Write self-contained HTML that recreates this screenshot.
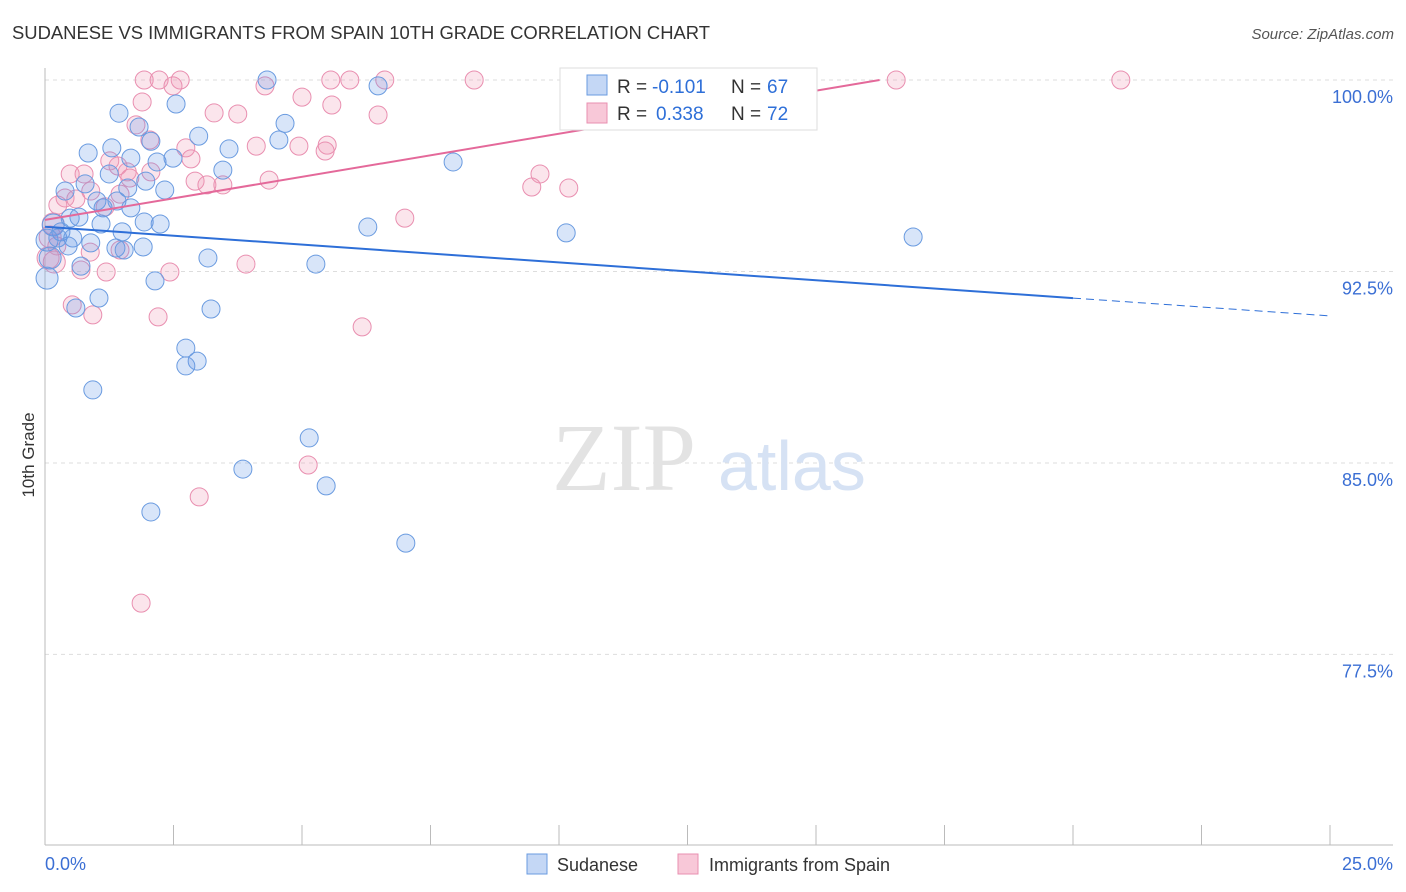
<!DOCTYPE html>
<html><head><meta charset="utf-8"><style>
body{margin:0;background:#fff;font-family:"Liberation Sans",sans-serif}
svg{display:block}
</style></head><body>
<svg width="1406" height="892" viewBox="0 0 1406 892">
<text x="12" y="39" font-size="18" fill="#333" textLength="698" lengthAdjust="spacingAndGlyphs">SUDANESE VS IMMIGRANTS FROM SPAIN 10TH GRADE CORRELATION CHART</text>
<text x="1394" y="39" font-size="15" fill="#555" font-style="italic" text-anchor="end">Source: ZipAtlas.com</text>
<g id="grid"></g>
<g><text x="552" y="490" font-size="96" fill="#e3e3e3" font-family="Liberation Serif,serif">ZIP</text><text x="718" y="490" font-size="70" fill="#d6e2f4">atlas</text></g>
<g id="axes"></g>
<g id="marks"></g>
<text x="34" y="455" font-size="17" fill="#333" text-anchor="middle" transform="rotate(-90 34 455)">10th Grade</text>
<g>
<rect x="560" y="68" width="257" height="62" fill="#fff" stroke="#ddd"/>
<rect x="587" y="75" width="20" height="20" fill="#c4d7f5" stroke="#6a9be0"/>
<text x="617" y="93" font-size="19" fill="#333">R =</text>
<text x="652" y="93" font-size="19" fill="#2e6fd8">-0.101</text>
<text x="731" y="93" font-size="19" fill="#333">N =</text>
<text x="767" y="93" font-size="19" fill="#2e6fd8">67</text>
<rect x="587" y="103" width="20" height="20" fill="#f8c8d8" stroke="#e98fb0"/>
<text x="617" y="120" font-size="19" fill="#333">R =</text>
<text x="656" y="120" font-size="19" fill="#2e6fd8">0.338</text>
<text x="731" y="120" font-size="19" fill="#333">N =</text>
<text x="767" y="120" font-size="19" fill="#2e6fd8">72</text>
</g>
<g>
<rect x="527" y="854" width="20" height="20" fill="#c4d7f5" stroke="#6a9be0"/>
<text x="557" y="871" font-size="18" fill="#333">Sudanese</text>
<rect x="678" y="854" width="20" height="20" fill="#f8c8d8" stroke="#e98fb0"/>
<text x="709" y="871" font-size="18" fill="#333">Immigrants from Spain</text>
</g>
</svg>
<script>
const yTicks=[100,92.5,85,77.5];
const yTickLabels=["100.0%","92.5%","85.0%","77.5%"];
const xTickLabels=["0.0%","25.0%"];
const blueX=[4.32,6.48,1.44,2.55,1.83,2.99,4.67,4.55,2.06,3.58,0.84,1.30,1.67,2.18,2.49,7.94,3.46,1.25,1.96,0.78,0.39,1.61,2.33,1.01,1.40,1.67,1.13,0.66,0.49,1.93,2.24,1.09,6.28,0.16,0.31,1.50,10.14,16.89,0.04,0.25,0.54,0.89,0.45,1.38,1.54,1.91,0.10,3.17,5.27,0.70,0.04,2.14,1.05,0.60,3.23,2.74,2.96,2.74,0.93,5.14,3.85,5.47,2.06,7.02];
const blueY=[100,99.77,98.7,99.06,98.16,97.8,98.3,97.65,97.6,97.3,97.14,97.34,96.94,96.79,96.94,96.79,96.47,96.32,96.04,95.93,95.65,95.77,95.69,95.26,95.26,94.99,94.99,94.63,94.59,94.44,94.36,94.36,94.24,94.32,94.05,94.05,94.01,93.85,93.73,93.81,93.81,93.62,93.5,93.42,93.34,93.46,93.03,93.03,92.79,92.71,92.24,92.13,91.46,91.07,91.03,89.5,88.99,88.8,87.86,85.98,84.76,84.10,83.08,81.86];
const pinkX=[1.93,2.22,2.63,2.49,5.56,5.93,6.61,8.35,11.95,16.56,20.93,4.28,5.00,1.89,5.58,3.29,3.75,6.48,1.77,2.04,5.49,4.94,4.11,2.74,5.45,2.84,1.26,1.42,1.60,2.06,1.65,0.49,0.76,9.63,4.36,2.92,3.15,3.46,9.47,10.19,0.89,1.46,0.39,0.60,1.17,0.25,7.00,0.16,0.10,0.23,0.88,1.46,0.06,0.18,3.91,0.70,1.19,2.43,0.53,0.93,2.20,6.17,5.12,3.00,1.87];
const pinkY=[100,100,100,99.77,100,100,100,100,100,100,100,99.77,99.33,99.14,99.02,98.71,98.67,98.63,98.24,97.65,97.45,97.41,97.41,97.34,97.22,96.91,96.83,96.63,96.40,96.40,96.16,96.32,96.32,96.32,96.08,96.04,95.89,95.89,95.81,95.77,95.65,95.53,95.38,95.34,95.03,95.1,94.59,94.36,93.85,93.5,93.26,93.34,93.03,92.87,92.79,92.56,92.48,92.48,91.19,90.80,90.72,90.33,84.92,83.67,79.51];
const blueTrend=[94.25,-0.1396];
const pinkTrend=[94.52,0.3375];
const NS="http://www.w3.org/2000/svg";
const xs=v=>45+v*51.4, ys=v=>80+(100-v)*25.53;
function mk(t,p,a){const e=document.createElementNS(NS,t);for(const k in a)e.setAttribute(k,a[k]);p.appendChild(e);return e;}
const grid=document.getElementById('grid'),axes=document.getElementById('axes'),marks=document.getElementById('marks');
yTicks.forEach((v,i)=>{
 const l=mk('line',grid,{x1:45,x2:1393,y1:ys(v),y2:ys(v),stroke:'#ddd','stroke-dasharray':'4 4'});
 
 
 const t=mk('text',axes,{x:1393,y:ys(v)+23,'font-size':18,fill:'#3b6fd4','text-anchor':'end'});
 t.textContent=yTickLabels[i];
 
 
});
mk('line',axes,{x1:45,x2:45,y1:68,y2:845,stroke:'#bbb'});
mk('line',axes,{x1:45,x2:1393,y1:845,y2:845,stroke:'#bbb'});
for(let i=0;i<=10;i++){const x=xs(i*2.5);const tk=mk('line',axes,{x1:x,x2:x,y1:825,y2:845,stroke:'#bbb'});
 
 }
[[0,45,'start'],[1,1393,'end']].forEach(([i,x,a])=>{const t=mk('text',axes,{x:x,y:870,'font-size':18,fill:'#3b6fd4','text-anchor':a});t.textContent=xTickLabels[i];
 
 });
function dots(X,Y,fill,stroke,name){X.forEach((x,i)=>{const c=mk('circle',marks,{cx:xs(x),cy:ys(Y[i]),r:(x<0.2?11:9),fill:fill,stroke:stroke,'stroke-width':1});
 
 });}
dots(pinkX,pinkY,'rgba(240,150,180,0.25)','#e98fb0','spain-point');
dots(blueX,blueY,'rgba(100,150,230,0.25)','#6a9be0','sudanese-point');
const b1=mk('line',marks,{x1:xs(0),y1:ys(blueTrend[0]),x2:xs(20),y2:ys(blueTrend[0]+blueTrend[1]*20),stroke:'#2e6fd8','stroke-width':2});


const b2=mk('line',marks,{x1:xs(20),y1:ys(blueTrend[0]+blueTrend[1]*20),x2:xs(25),y2:ys(blueTrend[0]+blueTrend[1]*25),stroke:'#2e6fd8','stroke-width':1,'stroke-dasharray':'8 5'});


const xe=(100-pinkTrend[0])/pinkTrend[1];
const p1=mk('line',marks,{x1:xs(0),y1:ys(pinkTrend[0]),x2:xs(xe),y2:ys(100),stroke:'#e4699a','stroke-width':2});


</script>
</body></html>
